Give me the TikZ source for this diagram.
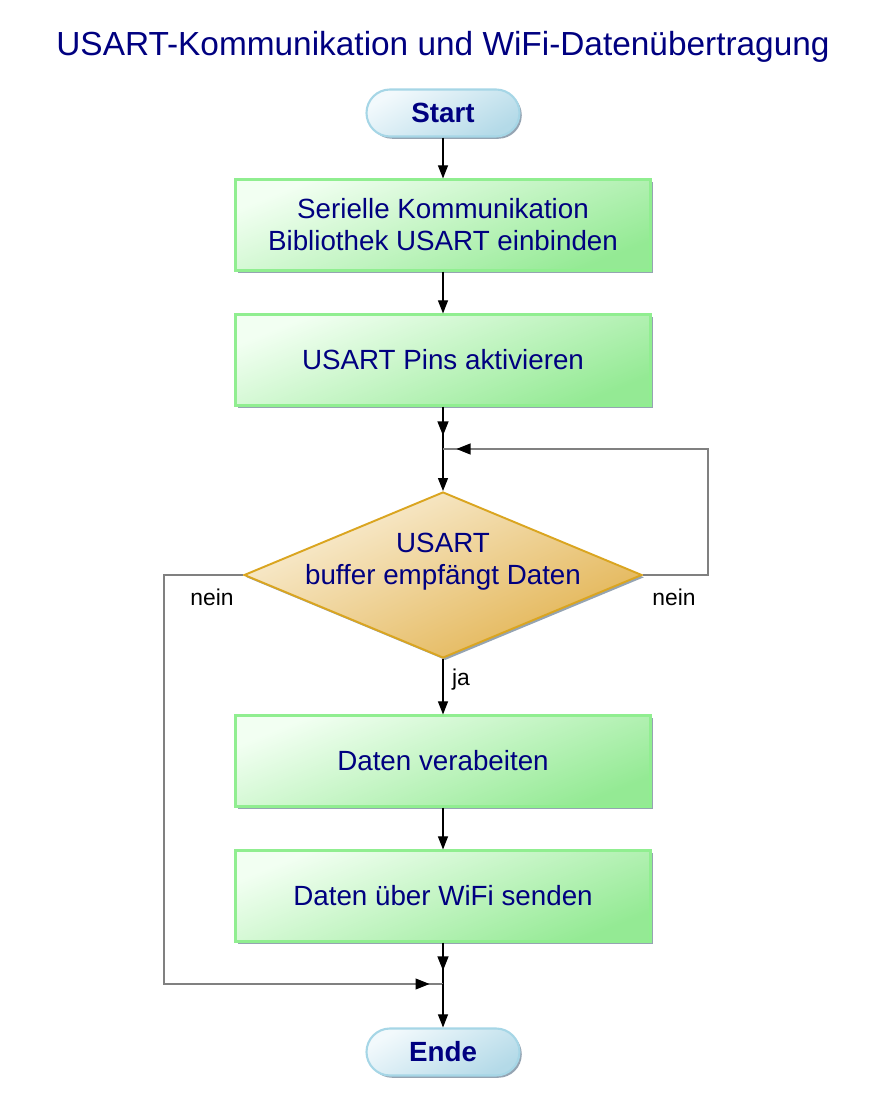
\documentclass[tikz,border=0pt]{standalone}
\usepackage{fontspec}
\setmainfont{Liberation Sans}
\usetikzlibrary{arrows.meta, shapes.geometric, positioning, shadows, decorations.markings}
\usepackage{xcolor}
\definecolor{usartnavy}{HTML}{000080}
\definecolor{usartgreen}{HTML}{90EE90}
\definecolor{usartgreenlight}{HTML}{F2FFF2}
\definecolor{usartgreendark}{HTML}{94EA94}
\definecolor{usartgold}{HTML}{DAA520}
\definecolor{usartgoldlight}{HTML}{FAF0DA}
\definecolor{usartgolddark}{HTML}{E2B24E}
\definecolor{usartblue}{HTML}{A6D6E6}
\definecolor{usartbluelight}{HTML}{F2F9FC}
\definecolor{usartbluedark}{HTML}{B4DAE8}
\definecolor{usartshadow}{HTML}{8A9AAA}

\begin{document}
\begin{tikzpicture}[
    terminal/.style={
        rectangle,
        rounded corners=0.47cm,
        minimum width=3.06cm,
        minimum height=0.94cm,
        draw=usartblue,
        line width=1.2pt,
        top color=usartbluelight,
        bottom color=usartbluedark,
        shading angle=30,
        drop shadow={shadow xshift=1.3pt, shadow yshift=-1.3pt, fill=usartshadow, opacity=0.9},
        text=usartnavy,
        font=\fontsize{15.8pt}{18pt}\selectfont\bfseries
    },
    process/.style={
        rectangle,
        minimum width=8.3cm,
        minimum height=1.82cm,
        draw=usartgreen,
        line width=1.2pt,
        top color=usartgreenlight,
        bottom color=usartgreendark,
        shading angle=22,
        drop shadow={shadow xshift=1.3pt, shadow yshift=-1.3pt, fill=usartshadow, opacity=0.9},
        text=usartnavy,
        align=center,
        font=\fontsize{15.8pt}{18.2pt}\selectfont
    },
    decision/.style={
        diamond,
        aspect=2.4,
        inner sep=0pt,
        minimum width=7.96cm,
        minimum height=3.32cm,
        draw=usartgold,
        line width=1.1pt,
        top color=usartgoldlight,
        bottom color=usartgolddark,
        shading angle=25,
        drop shadow={shadow xshift=1.3pt, shadow yshift=-1.3pt, fill=usartshadow, opacity=0.9}
    },
    dectext/.style={
        text=usartnavy,
        align=center,
        font=\fontsize{15.8pt}{18.2pt}\selectfont
    },
    answer/.style={
        font=\fontsize{13pt}{15pt}\selectfont
    },
    arrow/.style={
        -{Triangle[length=0.26cm, width=0.2cm]},
        line width=0.6pt,
        black
    },
    loopline/.style={
        line width=0.6pt,
        draw=gray
    },
    midtip/.style={
        postaction={decorate},
        decoration={markings,
            mark=at position -0.27cm with {\arrow{Triangle[length=0.28cm, width=0.22cm, color=black]}}}
    }
]
\useasboundingbox (0,0) rectangle (17.7,22.34);

% Title
\node[font=\fontsize{19pt}{22pt}\selectfont, text=usartnavy] (title) at (8.86,21.4)
    {USART-Kommunikation und WiFi-Datenübertragung};

% Flow
\node[terminal] (start) at (8.86,20.08) {Start};
\node[process] (init) at (8.86,17.84) {Serielle Kommunikation\\Bibliothek USART einbinden};
\node[process] (pins) at (8.86,15.14) {USART Pins aktivieren};
\coordinate (join1) at (8.86,13.36);
\node[decision] (buffer) at (8.86,10.84) {};
\node[dectext] (buffertext) at (8.86,11.1) {USART\\buffer empfängt Daten};
\node[process] (process) at (8.86,7.12) {Daten verabeiten};
\node[process] (send) at (8.86,4.42) {Daten über WiFi senden};
\coordinate (join2) at (8.86,2.66);
\node[terminal] (ende) at (8.86,1.30) {Ende};

% Loop corners
\coordinate (loopR) at (14.16,13.36);
\coordinate (loopL) at (3.28,2.66);

% Connectors
\draw[arrow] (start) -- (init);
\draw[arrow] (init) -- (pins);
\draw[line width=0.6pt, midtip] (pins) -- (join1);
\draw[arrow] (join1) -- (buffer);
\draw[loopline, midtip] (buffer.east) -| (loopR) -- (join1);
\draw[arrow] (buffer.south) -- (process);
\draw[arrow] (process) -- (send);
\draw[line width=0.6pt, midtip] (send) -- (join2);
\draw[loopline, midtip] (buffer.west) -| (loopL) -- (join2);
\draw[arrow] (join2) -- (ende);

% Labels
\node[answer] (neinL) at (4.24,10.4) {nein};
\node[answer] (neinR) at (13.48,10.4) {nein};
\node[answer] (ja) at (9.22,8.74) {ja};

\end{tikzpicture}
\end{document}
